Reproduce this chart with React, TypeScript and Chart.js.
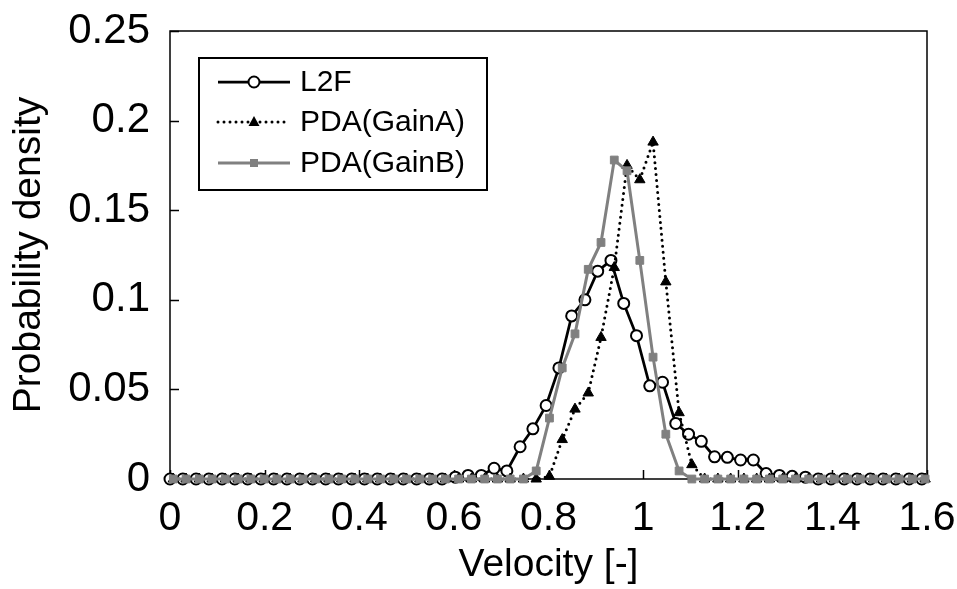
import React, { useEffect, useRef } from 'react';
import { Chart, registerables } from 'chart.js';

Chart.register(...registerables);

const FONT = "'Liberation Sans', Arial, Helvetica, sans-serif";

const seriesNames = ['L2F', 'PDA(GainA)', 'PDA(GainB)'];

const velocityL2F = [
  0.000, 0.027, 0.055, 0.082, 0.110, 0.137, 0.164, 0.192, 0.219, 0.247,
  0.274, 0.301, 0.329, 0.356, 0.384, 0.411, 0.438, 0.466, 0.493, 0.521,
  0.548, 0.575, 0.603, 0.630, 0.658, 0.685, 0.712, 0.740, 0.767, 0.795,
  0.822, 0.849, 0.877, 0.904, 0.932, 0.959, 0.986, 1.014, 1.041, 1.069,
  1.096, 1.123, 1.151, 1.178, 1.206, 1.233, 1.260, 1.288, 1.315, 1.343,
  1.370, 1.397, 1.425, 1.452, 1.480, 1.507, 1.534, 1.562, 1.589,
];

const densityL2F = [
  0, 0, 0, 0, 0, 0, 0, 0, 0, 0,
  0, 0, 0, 0, 0, 0, 0, 0, 0, 0,
  0, 0, 0.001, 0.002, 0.002, 0.006, 0.0045, 0.018, 0.028, 0.041,
  0.062, 0.091, 0.100, 0.116, 0.122, 0.098, 0.080, 0.052, 0.054, 0.031,
  0.025, 0.021, 0.0124, 0.0121, 0.0106, 0.0106, 0.003, 0.002, 0.0015, 0.001,
  0, 0, 0, 0, 0, 0, 0, 0, 0,
];

const velocityPDA = [
  0.007, 0.034, 0.062, 0.089, 0.117, 0.144, 0.171, 0.199, 0.226, 0.254,
  0.281, 0.308, 0.336, 0.363, 0.391, 0.418, 0.445, 0.473, 0.500, 0.528,
  0.555, 0.582, 0.610, 0.637, 0.665, 0.692, 0.719, 0.747, 0.774, 0.802,
  0.829, 0.856, 0.884, 0.911, 0.939, 0.966, 0.993, 1.021, 1.048, 1.076,
  1.103, 1.130, 1.158, 1.185, 1.213, 1.240, 1.267, 1.295, 1.322, 1.350,
  1.377, 1.404, 1.432, 1.459, 1.487, 1.514, 1.541, 1.569, 1.596,
];

const densityGainA = [
  0, 0, 0, 0, 0, 0, 0, 0, 0, 0,
  0, 0, 0, 0, 0, 0, 0, 0, 0, 0,
  0, 0, 0, 0, 0, 0, 0, 0, 0, 0.0015,
  0.022, 0.039, 0.048, 0.079, 0.118, 0.175, 0.167, 0.188, 0.110, 0.037,
  0.008, 0, 0, 0, 0, 0, 0, 0, 0, 0,
  0, 0, 0, 0, 0, 0, 0, 0, 0,
];

const densityGainB = [
  0, 0, 0, 0, 0, 0, 0, 0, 0, 0,
  0, 0, 0, 0, 0, 0, 0, 0, 0, 0,
  0, 0, 0, 0, 0, 0, 0, 0, 0.0045, 0.034,
  0.062, 0.081, 0.117, 0.132, 0.178, 0.172, 0.122, 0.068, 0.025, 0.0045,
  0, 0, 0, 0, 0, 0, 0, 0, 0, 0,
  0, 0, 0, 0, 0, 0, 0, 0, 0,
];

const xTickValues = [0, 0.2, 0.4, 0.6, 0.8, 1, 1.2, 1.4, 1.6];
const yTickValues = [0, 0.05, 0.1, 0.15, 0.2, 0.25];

const GRAY = '#808080';

const zip = (xs: number[], ys: number[]) => xs.map((x, i) => ({ x, y: ys[i] }));

const framePlugin = {
  id: 'frameTicks',
  beforeDatasetsDraw(chart: any) {
    const { ctx, chartArea, scales } = chart;
    const { left, right, top, bottom } = chartArea;
    ctx.save();
    ctx.strokeStyle = '#000';
    ctx.lineWidth = 1.5;
    ctx.strokeRect(left, top, right - left, bottom - top);
    ctx.beginPath();
    xTickValues.forEach((v) => {
      const px = Math.round(scales.x.getPixelForValue(v)) + 0.5;
      ctx.moveTo(px, bottom);
      ctx.lineTo(px, bottom - 9);
    });
    yTickValues.forEach((v) => {
      const py = Math.round(scales.y.getPixelForValue(v)) + 0.5;
      ctx.moveTo(left, py);
      ctx.lineTo(left + 9, py);
    });
    ctx.stroke();
    ctx.restore();
  },
};

const legendPlugin = {
  id: 'boxLegend',
  afterDraw(chart: any) {
    const { ctx, chartArea } = chart;
    const bx = chartArea.left + 29;
    const by = chartArea.top + 27;
    const bw = 288;
    const bh = 132;
    ctx.save();
    ctx.fillStyle = '#fff';
    ctx.fillRect(bx, by, bw, bh);
    ctx.strokeStyle = '#000';
    ctx.lineWidth = 2;
    ctx.strokeRect(bx, by, bw, bh);
    const rows = [by + 24, by + 64, by + 105];
    const x0 = bx + 19;
    const x1 = bx + 91;
    const xm = (x0 + x1) / 2;
    // L2F
    ctx.setLineDash([]);
    ctx.strokeStyle = '#000';
    ctx.lineWidth = 2.75;
    ctx.beginPath();
    ctx.moveTo(x0, rows[0]);
    ctx.lineTo(x1, rows[0]);
    ctx.stroke();
    ctx.beginPath();
    ctx.arc(xm, rows[0], 5.5, 0, Math.PI * 2);
    ctx.fillStyle = '#fff';
    ctx.fill();
    ctx.lineWidth = 2;
    ctx.stroke();
    // GainA
    ctx.lineWidth = 3;
    ctx.lineCap = 'round';
    ctx.setLineDash([0, 6]);
    ctx.beginPath();
    ctx.moveTo(x0, rows[1]);
    ctx.lineTo(x1, rows[1]);
    ctx.stroke();
    ctx.setLineDash([]);
    ctx.lineCap = 'butt';
    ctx.fillStyle = '#000';
    ctx.beginPath();
    ctx.moveTo(xm, rows[1] - 6);
    ctx.lineTo(xm + 5.5, rows[1] + 4);
    ctx.lineTo(xm - 5.5, rows[1] + 4);
    ctx.closePath();
    ctx.fill();
    // GainB
    ctx.strokeStyle = GRAY;
    ctx.lineWidth = 3;
    ctx.beginPath();
    ctx.moveTo(x0, rows[2]);
    ctx.lineTo(x1, rows[2]);
    ctx.stroke();
    ctx.fillStyle = GRAY;
    ctx.fillRect(xm - 4, rows[2] - 4, 8, 8);
    // text
    ctx.fillStyle = '#000';
    ctx.font = `30px ${FONT}`;
    ctx.textBaseline = 'middle';
    ctx.textAlign = 'left';
    seriesNames.forEach((name, i) => {
      ctx.fillText(name, x1 + 10, rows[i] + 1);
    });
    ctx.restore();
  },
};

export default function App() {
  const canvasRef = useRef<HTMLCanvasElement | null>(null);

  useEffect(() => {
    const canvas = canvasRef.current;
    if (!canvas) return;
    const chart = new Chart(canvas, {
      type: 'line',
      data: {
        datasets: [
          {
            label: seriesNames[0],
            data: zip(velocityL2F, densityL2F),
            borderColor: '#000',
            borderWidth: 2.75,
            pointStyle: 'circle',
            pointRadius: 5.5,
            pointBackgroundColor: '#fff',
            pointBorderColor: '#000',
            pointBorderWidth: 2,
            tension: 0,
            clip: false,
            order: 3,
          },
          {
            label: seriesNames[1],
            data: zip(velocityPDA, densityGainA),
            borderColor: '#000',
            borderWidth: 3,
            borderDash: [0, 6],
            borderCapStyle: 'round',
            pointStyle: 'triangle',
            pointRadius: 6,
            pointBackgroundColor: '#000',
            pointBorderColor: '#000',
            pointBorderWidth: 1,
            tension: 0,
            clip: false,
            order: 2,
          },
          {
            label: seriesNames[2],
            data: zip(velocityPDA, densityGainB),
            borderColor: GRAY,
            borderWidth: 3,
            pointStyle: 'rect',
            pointRadius: 5.5,
            pointBackgroundColor: GRAY,
            pointBorderColor: GRAY,
            pointBorderWidth: 1,
            tension: 0,
            clip: false,
            order: 1,
          },
        ],
      } as any,
      options: {
        animation: false,
        responsive: false,
        maintainAspectRatio: false,
        layout: { padding: { top: 31, right: 30, left: 0, bottom: 0 } },
        plugins: {
          legend: { display: false },
          tooltip: { enabled: false },
        },
        scales: {
          x: {
            type: 'linear',
            min: 0,
            max: 1.6,
            afterFit: (s: any) => {
              s.height = 110;
              s.paddingLeft = 0;
              s.paddingRight = 0;
              s.paddingTop = 0;
              s.paddingBottom = 0;
            },
            afterBuildTicks: (s: any) => { s.ticks = xTickValues.map((v) => ({ value: v })); },
            grid: { display: false, drawTicks: false },
            border: { display: false },
            ticks: {
              padding: 15,
              color: '#000',
              font: { family: FONT, size: 41 },
              maxRotation: 0,
              autoSkip: false,
              callback: (v: any) => String(Math.round(Number(v) * 100) / 100),
            },
            title: {
              display: true,
              text: 'Velocity [-]',
              color: '#000',
              font: { family: FONT, size: 39 },
              padding: { top: 0, bottom: 0 },
            },
          },
          y: {
            type: 'linear',
            min: 0,
            max: 0.25,
            afterFit: (s: any) => {
              s.width = 170;
              s.paddingLeft = 0;
              s.paddingRight = 0;
              s.paddingTop = 0;
              s.paddingBottom = 0;
            },
            afterBuildTicks: (s: any) => { s.ticks = yTickValues.map((v) => ({ value: v })); },
            grid: { display: false, drawTicks: false },
            border: { display: false },
            ticks: {
              padding: 20,
              color: '#000',
              font: { family: FONT, size: 42 },
              autoSkip: false,
              callback: (v: any) => String(Math.round(Number(v) * 1000) / 1000),
            },
            title: {
              display: true,
              text: 'Probability density',
              color: '#000',
              font: { family: FONT, size: 39 },
              padding: { top: 6, bottom: 0 },
            },
          },
        },
      } as any,
      plugins: [framePlugin, legendPlugin],
    });
    return () => chart.destroy();
  }, []);

  return (
    <div style={{ position: 'fixed', left: 0, top: 0, width: 957, height: 589, background: '#fff' }}>
      <canvas ref={canvasRef} width={957} height={589} style={{ width: 957, height: 589, display: 'block' }} />
    </div>
  );
}
